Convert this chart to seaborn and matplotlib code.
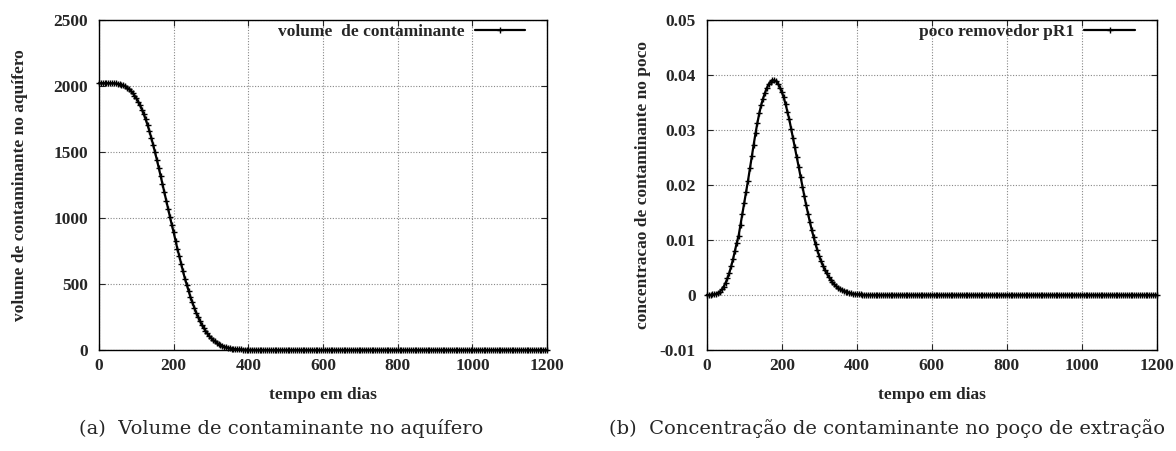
import numpy as np
import pandas as pd
import seaborn as sns
import matplotlib.pyplot as plt

sns.set_style("ticks")
plt.rcParams['font.family'] = ['Liberation Serif', 'DejaVu Serif']
plt.rcParams['font.weight'] = 'bold'

# tempo (dias), amostras a cada 5 dias
dias = list(range(0, 1205, 5))

# volume de contaminante no aquifero (0 a 415 dias), depois ~0
volume_ini = [2020, 2020, 2020, 2020, 2020, 2020, 2020, 2020, 2020, 2018,
              2016, 2013, 2009, 2003, 1996, 1987, 1976, 1962, 1946, 1927,
              1905, 1880, 1852, 1820, 1785, 1746, 1703, 1657, 1607, 1554,
              1498, 1440, 1380, 1318, 1256, 1194, 1130, 1068, 1006, 946,
              890, 826, 764, 711, 652, 595, 541, 495, 446, 399,
              361, 321, 283, 253, 221, 192, 169, 146, 125, 106,
              92, 78, 65, 55, 46, 38, 32, 26, 21, 18,
              14, 11, 9, 7, 6, 4, 4, 3, 2, 2,
              1, 1, 1, 1]
volume = volume_ini + [0] * (len(dias) - len(volume_ini))

# concentracao no poco removedor pR1 (0 a 410 dias), depois ~0
conc_ini = [0.0000, 0.0000, 0.0000, 0.0001, 0.0001, 0.0002, 0.0004, 0.0006, 0.0010, 0.0015,
            0.0022, 0.0030, 0.0040, 0.0052, 0.0065, 0.0080, 0.0095, 0.0108, 0.0128, 0.0148,
            0.0168, 0.0188, 0.0208, 0.0230, 0.0252, 0.0273, 0.0294, 0.0313, 0.0330, 0.0345,
            0.0357, 0.0367, 0.0376, 0.0383, 0.0387, 0.0390, 0.0390, 0.0388, 0.0384, 0.0377,
            0.0369, 0.0359, 0.0347, 0.0333, 0.0319, 0.0302, 0.0286, 0.0269, 0.0251, 0.0233,
            0.0215, 0.0197, 0.0180, 0.0163, 0.0148, 0.0132, 0.0118, 0.0105, 0.0092, 0.0081,
            0.0070, 0.0061, 0.0053, 0.0045, 0.0039, 0.0033, 0.0028, 0.0023, 0.0019, 0.0016,
            0.0013, 0.0011, 0.0009, 0.0007, 0.0006, 0.0005, 0.0004, 0.0003, 0.0002, 0.0002,
            0.0001, 0.0001, 0.0001]
conc = conc_ini + [0.0] * (len(dias) - len(conc_ini))

df_vol = pd.DataFrame({'dias': dias, 'valor': volume})
df_conc = pd.DataFrame({'dias': dias, 'valor': conc})

xticks = [0, 200, 400, 600, 800, 1000, 1200]
yticks_vol = [0, 500, 1000, 1500, 2000, 2500]
yticks_conc = [-0.01, 0, 0.01, 0.02, 0.03, 0.04, 0.05]
ylabels_conc = ['-0.01', '0', '0.01', '0.02', '0.03', '0.04', '0.05']

FS = 12.5

fig = plt.figure(figsize=(11.76, 4.51), dpi=100)
ax1 = fig.add_axes([0.0842, 0.224, 0.381, 0.732])
ax2 = fig.add_axes([0.601, 0.224, 0.3827, 0.732])


def estilo(ax, yticks, ylabels, ylabel, ypad):
    ax.set_xlim(0, 1200)
    ax.set_ylim(yticks[0], yticks[-1])
    ax.set_xticks(xticks)
    ax.set_xticklabels([str(v) for v in xticks])
    ax.set_yticks(yticks)
    ax.set_yticklabels(ylabels)
    ax.tick_params(direction='in', top=True, right=True, length=4, width=0.8,
                   labelsize=FS, pad=8)
    ax.tick_params(axis='x', pad=6)
    for lab in ax.get_xticklabels() + ax.get_yticklabels():
        lab.set_fontweight('bold')
    ax.grid(True, linestyle=(0, (1, 1.5)), color='#888888', linewidth=0.8)
    for s in ax.spines.values():
        s.set_linewidth(1.0)
        s.set_color('black')
    ax.set_xlabel('tempo em dias', fontsize=FS, fontweight='bold', labelpad=9)
    ax.set_ylabel(ylabel, fontsize=FS, fontweight='bold', labelpad=ypad)


kw = dict(color='black', linewidth=1.6, marker='+', markersize=5,
          markeredgewidth=1.0, markeredgecolor='black', clip_on=False)

sns.lineplot(data=df_vol, x='dias', y='valor', ax=ax1,
             label='volume  de contaminante', **kw)
estilo(ax1, yticks_vol, [str(v) for v in yticks_vol],
       'volume de contaminante no aquífero', 18)

sns.lineplot(data=df_conc, x='dias', y='valor', ax=ax2,
             label='poco removedor pR1', **kw)
estilo(ax2, yticks_conc, ylabels_conc,
       'concentracao de contaminante no poco', 6)

for ax in (ax1, ax2):
    w = ax.get_window_extent().width
    h = ax.get_window_extent().height
    leg = ax.legend(loc='upper right', frameon=False, markerfirst=False,
                    handlelength=2.9, handletextpad=0.6, borderaxespad=0,
                    borderpad=0, bbox_to_anchor=(1 - 22 / w, 1 - 4 / h),
                    prop={'weight': 'bold', 'size': FS})
    for hd in leg.legend_handles:
        hd.set_markersize(5)
        hd.set_markeredgecolor('black')

fig.text(0.239, 0.05, '(a)  Volume de contaminante no aquífero', ha='center',
         va='center', fontsize=14, fontweight='normal', family='DejaVu Serif')
fig.text(0.754, 0.05, '(b)  Concentração de contaminante no poço de extração',
         ha='center', va='center', fontsize=14, fontweight='normal',
         family='DejaVu Serif')

plt.savefig('out.png', dpi=100)
